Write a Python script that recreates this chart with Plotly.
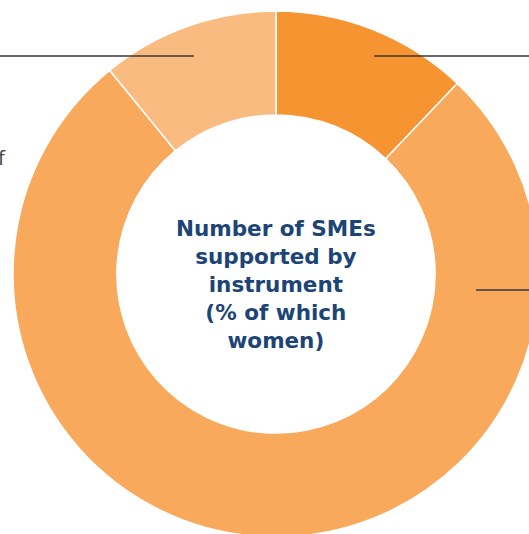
import plotly.graph_objects as go

# --- DATA ---
instruments = ["Instrument A", "Instrument B", "Instrument C"]
shares = [12.1, 77.0, 10.9]
slice_colors = ["#F69431", "#F8A95C", "#FABB80"]

center_title = "Number of SMEs<br>supported by<br>instrument<br>(% of which<br>women)"

# --- LAYOUT (donut runs off the right and bottom edges, like the crop) ---
W, H = 540, 540
NAVY = "#1C4476"
LINE = "#383838"

fig = go.Figure(
    go.Pie(
        labels=instruments,
        values=shares,
        hole=0.605,
        sort=False,
        direction="clockwise",
        rotation=0,
        marker=dict(colors=slice_colors, line=dict(color="white", width=1.5)),
        textinfo="none",
        hoverinfo="label+percent",
        domain=dict(x=[13 / W, 539 / W], y=[1 - 537 / H, 1 - 11 / H]),
    )
)

# center label
fig.add_annotation(
    x=276 / W, y=1 - 284 / H, xref="paper", yref="paper",
    text="<b>" + center_title + "</b>",
    showarrow=False, xanchor="center", yanchor="middle",
    font=dict(family="DejaVu Sans", size=21.5, color=NAVY),
)

# label cut off by the left edge
fig.add_annotation(
    x=8 / W, y=1 - 157 / H, xref="paper", yref="paper",
    text="of", showarrow=False, xanchor="right", yanchor="middle",
    font=dict(family="Open Sans", size=20, color="#444444"),
)

# leader lines
for x0, x1, y in [(0, 194, 56), (374, 540, 56), (476, 540, 290)]:
    fig.add_shape(
        type="line", xref="paper", yref="paper",
        x0=x0 / W, x1=x1 / W, y0=1 - y / H, y1=1 - y / H,
        line=dict(color=LINE, width=1.3),
    )

fig.update_layout(
    width=W, height=H,
    margin=dict(l=0, r=0, t=0, b=0),
    paper_bgcolor="white",
    plot_bgcolor="white",
    showlegend=False,
)

# no page margin / scrollbars so the figure sits at the window's corner
fig.write_html(
    "out.html",
    config={"displayModeBar": False},
    post_script="document.body.style.margin='0';"
    "document.documentElement.style.overflow='hidden';",
)
